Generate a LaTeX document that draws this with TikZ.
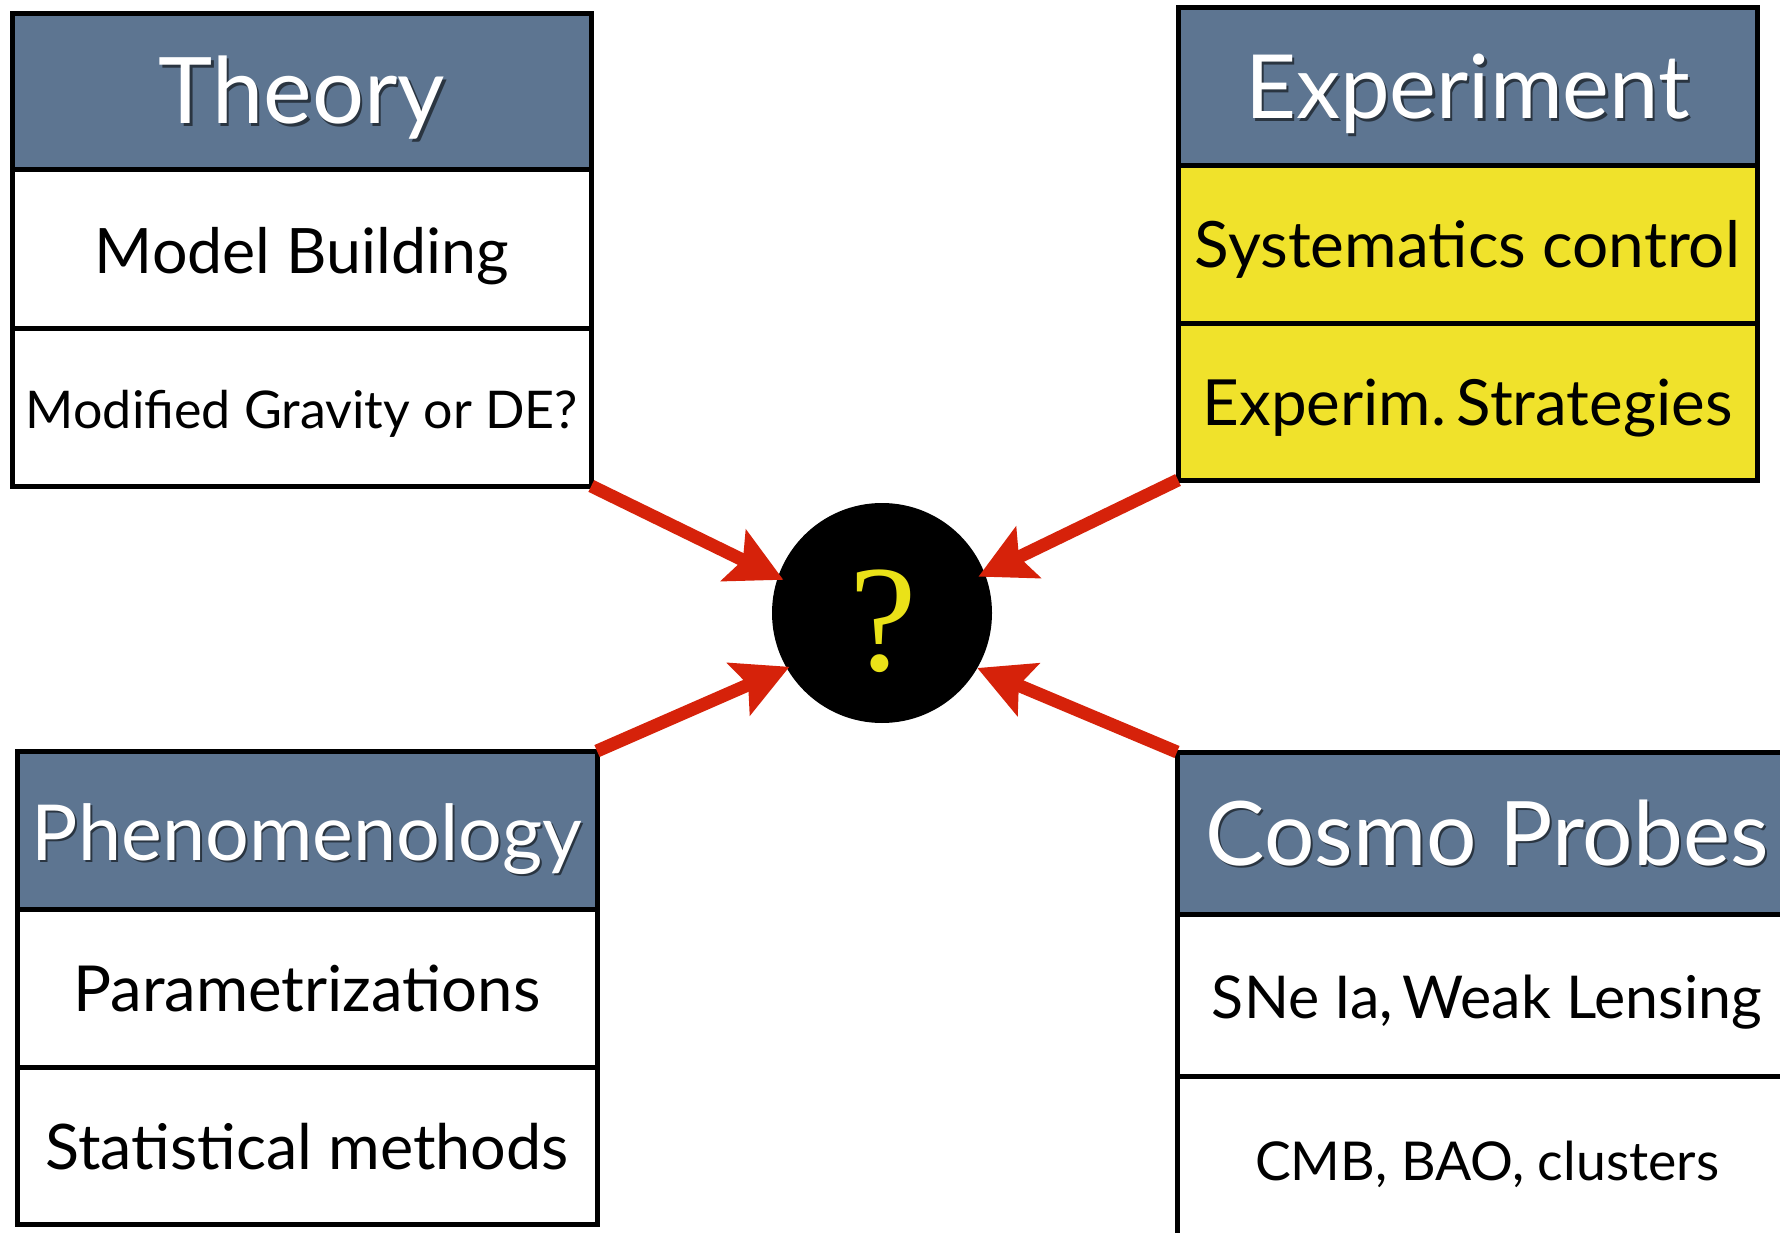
\documentclass[tikz,border=0pt]{standalone}
\usepackage{fontspec}
\usepackage{graphicx}
\setmainfont{Lato}
\newfontfamily\qfont{Liberation Serif}
\usetikzlibrary{arrows.meta}
\definecolor{hdr}{RGB}{93,117,145}
\definecolor{ylw}{RGB}{240,226,43}
\definecolor{arr}{RGB}{214,34,10}
\definecolor{qylw}{RGB}{234,226,24}
\newcommand{\fitw}[2]{\resizebox{#1}{!}{\fontsize{60}{72}\selectfont #2}}
\newcommand{\shd}[1]{\makebox[0pt][l]{\hspace{1.5pt}\raisebox{-2pt}{\textcolor{hdr!45!black}{#1}}}#1}
\begin{document}
\begin{tikzpicture}[x=1pt,y=-1pt,
  cell/.style={draw=black, line width=5pt, inner sep=0pt, outer sep=0pt, text depth=0pt},
  hdrcell/.style={cell, fill=hdr, text=white, text height=63pt},
  wcell/.style={cell, fill=white, text=black, text height=48pt},
  ycell/.style={cell, fill=ylw, text=black, text height=48pt},
  thbox/.style={minimum width=578.5pt},
  exbox/.style={minimum width=579pt},
  phbox/.style={minimum width=580pt},
  cobox/.style={minimum width=620pt},
  arrowline/.style={draw=arr, line width=13pt, line cap=butt,
    -{Stealth[length=55pt,width=56pt,inset=10pt]}}
]
\useasboundingbox (0,0) rectangle (1780,1233);
\clip (0,0) rectangle (1780,1233);
\fill[white] (0,0) rectangle (1780,1233);

% Theory
\node[hdrcell, thbox, minimum height=157pt] (th0) at (302,92) {\fitw{286pt}{\shd{Theory}}};
\node[wcell, thbox, minimum height=158pt] (th1) at (302,249) {\fitw{414pt}{Model Building}};
\node[wcell, thbox, minimum height=158pt, text height=42pt] (th2) at (302,407) {\fitw{552pt}{Modified Gravity or DE?}};

% Experiment
\node[hdrcell, exbox, minimum height=158pt] (ex0) at (1467.5,87) {\fitw{445pt}{\shd{Experiment}}};
\node[ycell, exbox, minimum height=157pt, text height=47pt] (ex1) at (1467.5,244.5) {\fitw{545pt}{Systematics control}};
\node[ycell, exbox, minimum height=157pt] (ex2) at (1467.5,401.5) {\fitw{530pt}{Experim.\,Strategies}};

% Phenomenology
\node[hdrcell, phbox, minimum height=158pt, text height=60pt] (ph0) at (307,830) {\fitw{550pt}{\shd{Phenomenology}}};
\node[wcell, phbox, minimum height=158pt, text height=46pt] (ph1) at (307,988) {\fitw{467pt}{Parametrizations}};
\node[wcell, phbox, minimum height=157pt, text height=47pt] (ph2) at (307,1145.5) {\fitw{523pt}{Statistical methods}};

% Cosmo Probes
\node[hdrcell, cobox, minimum height=162pt, text height=64pt] (co0) at (1487,833) {\fitw{563pt}{\shd{Cosmo Probes}}};
\node[wcell, cobox, minimum height=162pt, text height=46pt] (co1) at (1487,995) {\fitw{550pt}{SNe Ia,\,Weak Lensing}};
\node[wcell, cobox, minimum height=164pt, text height=44pt] (co2) at (1487,1158) {\fitw{464pt}{CMB, BAO, clusters}};

% central circle
\node[circle, fill=black, minimum size=220pt, inner sep=0pt, outer sep=0pt] (q) at (882,613) {};
\node[anchor=base, text=qylw, inner sep=0pt] (qm) at (883,670) {\qfont\fontsize{152}{160}\selectfont ?};

% arrows
\draw[arrowline, shorten >=-6pt] (th2.south east) -- (q.161.6);
\draw[arrowline, shorten >=-7pt] (ex2.south west) -- (q.21);
\draw[arrowline, shorten >=-3pt] (ph0.north east) -- (q.210.4);
\draw[arrowline] (co0.north west) -- (q.330.9);
\end{tikzpicture}
\end{document}
